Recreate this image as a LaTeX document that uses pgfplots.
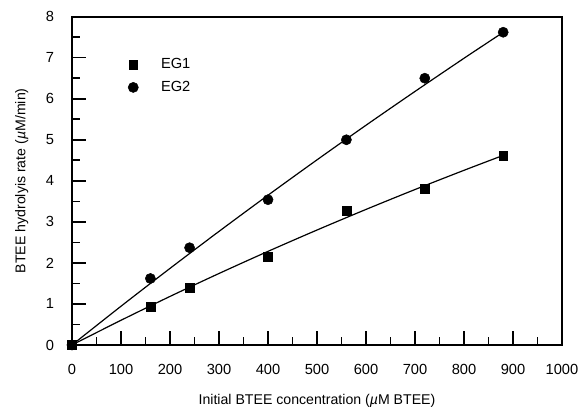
\documentclass[border=0pt]{standalone}
\usepackage{fontspec}
\setmainfont{Liberation Sans}
\usepackage{pgfplots}
\pgfplotsset{compat=1.18}
\begin{document}
\begin{tikzpicture}[x=1pt,y=1pt]
\begin{axis}[
  scale only axis,
  width=367.5pt, height=246.25pt,
  xmin=0, xmax=1000, ymin=0, ymax=8,
  xtick={0,100,...,1000}, ytick={0,1,...,8},
  minor x tick num=1, minor y tick num=1,
  tick align=inside,
  xtick pos=bottom, ytick pos=left,
  major tick length=10.5pt, minor tick length=6pt,
  axis line style={line width=1.3pt},
  every tick/.style={line width=1.2pt, black},
  /pgf/number format/assume math mode=true,
  /pgf/number format/1000 sep={},
  tick label style={font=\fontsize{11}{13}\selectfont},
  label style={font=\fontsize{10.6}{12}\selectfont},
  xticklabel style={yshift=-11pt},
  yticklabel style={xshift=-9.9pt},
  xlabel={Initial BTEE concentration (\textit{µ}M BTEE)},
  ylabel={BTEE hydrolyis rate (\textit{µ}M/min)},
  xlabel style={yshift=-8pt},
  ylabel style={yshift=6.4pt},
  legend style={draw=none, fill=none, at={(axis cs:106,7.12)}, anchor=north west, font=\fontsize{11}{13}\selectfont, row sep=4pt},
  legend cell align=left,
  clip=false,
]
\addplot[only marks, mark=square*, mark size=3.3pt, black] coordinates {
  (0,0) (160,0.94) (240,1.39) (400,2.14) (560,3.28) (720,3.80) (880,4.62)
};
\addlegendentry{\hspace{15pt}EG1}
\addplot[only marks, mark=*, mark size=3.8pt, black] coordinates {
  (0,0) (160,1.62) (240,2.37) (400,3.54) (560,5.00) (720,6.50) (880,7.62)
};
\addlegendentry{\hspace{15pt}EG2}
\addplot[black, line width=0.9pt, smooth, forget plot] coordinates {
  (0,0) (100,0.602) (200,1.183) (300,1.742) (400,2.281) (500,2.801) (600,3.303) (700,3.788) (800,4.256) (880,4.620)
};
\addplot[black, line width=0.9pt, smooth, forget plot] coordinates {
  (0,0) (100,0.944) (200,1.866) (300,2.768) (400,3.649) (500,4.511) (600,5.354) (700,6.178) (800,6.986) (880,7.619)
};
\end{axis}
\pgfresetboundingbox
\useasboundingbox ([shift={(-54pt,-48pt)}]current axis.south west) rectangle ([shift={(15pt,12.5pt)}]current axis.north east);
\end{tikzpicture}
\end{document}
